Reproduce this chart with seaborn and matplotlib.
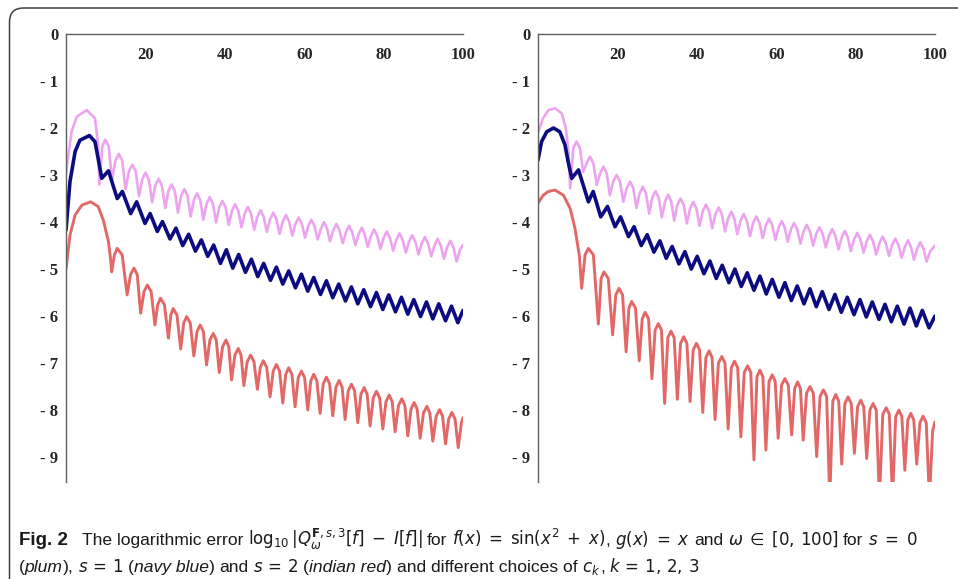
import numpy as np
import pandas as pd
import seaborn as sns
import matplotlib
import matplotlib.pyplot as plt
from matplotlib.patches import FancyBboxPatch
from matplotlib.transforms import IdentityTransform

sns.set_style("white")
plt.rcParams['axes.unicode_minus'] = False
plt.rcParams['font.family'] = ['Liberation Sans', 'DejaVu Sans']
plt.rcParams['mathtext.fontset'] = 'dejavusans'

# points (x = omega, y = log10 error): cusps, shoulders, tops
# left panel
plum_left_x = [0, 1.4, 2.7, 5.2, 7.3, 8.1, 8.4,
               9.15, 9.9, 10.75, 11.6, 12.45, 13.3, 14.15, 15.0, 15.85, 16.7, 17.55, 18.4,
               19.2, 20.0, 20.85, 21.7, 22.5, 23.3, 24.15, 25.0, 25.8, 26.6, 27.4, 28.2,
               29.0, 29.8, 30.6, 31.4, 32.2, 33.0, 33.8, 34.6, 35.4, 36.2, 37.0, 37.8,
               38.6, 39.4, 40.2, 41.0, 41.8, 42.6, 43.4, 44.2, 45.0, 45.8, 46.6, 47.4,
               48.2, 49.0, 49.8, 50.6, 51.4, 52.2, 53.0, 53.8, 54.6, 55.4, 56.2, 57.0,
               57.8, 58.6, 59.4, 60.2, 61.0, 61.8, 62.6, 63.4, 64.2, 65.0, 65.75, 66.5,
               67.3, 68.1, 68.9, 69.7, 70.5, 71.3, 72.1, 72.9, 73.7, 74.5, 75.25, 76.0,
               76.8, 77.6, 78.4, 79.2, 80.0, 80.8, 81.6, 82.4, 83.2, 84.0, 84.8, 85.6,
               86.4, 87.2, 88.0, 88.8, 89.6, 90.4, 91.2, 92.0, 92.8, 93.6, 94.4, 95.2,
               96.0, 96.8, 97.6, 98.4, 99.2, 100]
plum_left_y = [-2.95, -2.08, -1.76, -1.62, -1.79, -2.36, -3.2,
               -2.39, -2.25, -2.39, -3.1, -2.69, -2.55, -2.69, -3.3, -2.92, -2.78, -2.92, -3.45,
               -3.09, -2.95, -3.09, -3.58, -3.22, -3.08, -3.22, -3.7, -3.34, -3.2, -3.34, -3.8,
               -3.44, -3.3, -3.44, -3.88, -3.53, -3.39, -3.53, -3.95, -3.61, -3.47, -3.61, -4.01,
               -3.69, -3.55, -3.69, -4.06, -3.76, -3.62, -3.76, -4.11, -3.82, -3.68, -3.82, -4.16,
               -3.89, -3.75, -3.89, -4.21, -3.94, -3.8, -3.94, -4.25, -3.99, -3.85, -3.99, -4.29,
               -4.04, -3.9, -4.04, -4.33, -4.09, -3.95, -4.09, -4.37, -4.14, -4.0, -4.14, -4.41,
               -4.18, -4.04, -4.18, -4.45, -4.22, -4.08, -4.22, -4.49, -4.26, -4.12, -4.26, -4.53,
               -4.3, -4.16, -4.3, -4.57, -4.34, -4.2, -4.34, -4.61, -4.38, -4.24, -4.38, -4.65,
               -4.42, -4.28, -4.42, -4.69, -4.46, -4.32, -4.46, -4.73, -4.5, -4.36, -4.5, -4.78,
               -4.54, -4.4, -4.54, -4.84, -4.6, -4.48]

navy_left_x = [0, 1.0, 2.3, 3.5, 5.9, 7.3, 8.1, 9.0, 10.7, 12.9, 14.2, 16.3, 17.8, 19.9, 21.2, 23.0, 24.3,
               26.2, 27.7, 29.4, 30.9, 32.6, 34.1, 35.7, 37.2, 38.9, 40.4, 42.0, 43.5, 45.2, 46.7, 48.3,
               49.8, 51.5, 53.0, 54.6, 56.1, 57.8, 59.3, 60.9, 62.4, 64.1, 65.6, 67.2, 68.7, 70.4, 71.9,
               73.5, 75.0, 76.7, 78.2, 79.8, 81.3, 83.0, 84.5, 86.1, 87.6, 89.3, 90.8, 92.4, 93.9, 95.6,
               97.1, 98.7, 100]
navy_left_y = [-4.17, -3.14, -2.5, -2.26, -2.16, -2.29, -2.65, -3.07, -2.91, -3.5, -3.35, -3.82, -3.57,
               -4.03, -3.82, -4.2, -3.99, -4.36, -4.13, -4.5, -4.26, -4.62, -4.38, -4.73, -4.49, -4.88,
               -4.59, -4.98, -4.69, -5.07, -4.79, -5.16, -4.88, -5.24, -4.96, -5.32, -5.04, -5.4, -5.11,
               -5.47, -5.18, -5.54, -5.25, -5.61, -5.32, -5.68, -5.38, -5.74, -5.44, -5.8, -5.5, -5.86,
               -5.55, -5.91, -5.6, -5.96, -5.65, -6.01, -5.7, -6.06, -5.74, -6.1, -5.79, -6.14, -5.88]

red_left_x = [0, 1.0, 2.3, 4.0, 6.2, 8.1, 9.4, 10.7, 11.3, 11.5,
              12.2, 12.9, 14.15, 15.4, 16.25, 17.1, 17.95, 18.8, 19.65, 20.5, 21.45, 22.4,
              23.1, 23.8, 24.8, 25.8, 26.4, 27.0, 27.95, 28.9, 29.65, 30.4, 31.3, 32.2,
              33.0, 33.8, 34.6, 35.4, 36.25, 37.1, 37.85, 38.6, 39.45, 40.3, 41.0, 41.7,
              42.55, 43.4, 44.1, 44.8, 45.65, 46.5, 47.35, 48.2, 48.95, 49.7, 50.55, 51.4,
              52.2, 53.0, 53.8, 54.6, 55.35, 56.1, 56.9, 57.7, 58.5, 59.3, 60.1, 60.9,
              61.65, 62.4, 63.2, 64.0, 64.8, 65.6, 66.4, 67.2, 68.0, 68.8, 69.55, 70.3,
              71.1, 71.9, 72.7, 73.5, 74.3, 75.1, 75.85, 76.6, 77.4, 78.2, 79.0, 79.8,
              80.6, 81.4, 82.15, 82.9, 83.75, 84.6, 85.35, 86.1, 86.9, 87.7, 88.45, 89.2,
              90.05, 90.9, 91.65, 92.4, 93.25, 94.1, 94.85, 95.6, 96.4, 97.2, 98.0, 98.8,
              99.6, 100]
red_left_y = [-5.0, -4.28, -3.85, -3.64, -3.57, -3.67, -3.96, -4.42, -4.84, -5.06,
              -4.7, -4.56, -4.7, -5.55, -5.12, -4.98, -5.12, -5.94, -5.48, -5.34, -5.48, -6.19,
              -5.76, -5.62, -5.76, -6.47, -5.98, -5.84, -5.98, -6.7, -6.15, -6.01, -6.15, -6.85,
              -6.33, -6.19, -6.33, -7.04, -6.51, -6.37, -6.51, -7.2, -6.65, -6.51, -6.65, -7.36,
              -6.83, -6.69, -6.83, -7.48, -6.97, -6.83, -6.97, -7.56, -7.09, -6.95, -7.09, -7.72,
              -7.17, -7.03, -7.17, -7.85, -7.24, -7.1, -7.24, -7.93, -7.31, -7.17, -7.31, -8.0,
              -7.38, -7.24, -7.38, -8.07, -7.44, -7.3, -7.44, -8.12, -7.51, -7.37, -7.51, -8.2,
              -7.59, -7.45, -7.59, -8.27, -7.66, -7.52, -7.66, -8.34, -7.74, -7.6, -7.74, -8.4,
              -7.82, -7.68, -7.82, -8.46, -7.9, -7.76, -7.9, -8.55, -7.98, -7.84, -7.98, -8.6,
              -8.06, -7.92, -8.06, -8.66, -8.13, -7.99, -8.13, -8.72, -8.19, -8.05, -8.19, -8.8,
              -8.27, -8.16]

# right panel
plum_right_x = [0, 1.3, 2.6, 4.3, 6.0, 7.0, 7.7, 8.1,
                8.9, 9.7, 10.55, 11.4, 12.25, 13.1, 13.95, 14.8, 15.65, 16.5, 17.3, 18.1,
                18.95, 19.8, 20.65, 21.5, 22.35, 23.2, 24.0, 24.8, 25.6, 26.4, 27.2, 28.0,
                28.8, 29.6, 30.4, 31.2, 32.0, 32.8, 33.55, 34.3, 35.1, 35.9, 36.7, 37.5,
                38.3, 39.1, 39.9, 40.7, 41.5, 42.3, 43.1, 43.9, 44.7, 45.5, 46.3, 47.1,
                47.9, 48.7, 49.45, 50.2, 51.0, 51.8, 52.6, 53.4, 54.2, 55.0, 55.8, 56.6,
                57.4, 58.2, 59.0, 59.8, 60.6, 61.4, 62.15, 62.9, 63.7, 64.5, 65.3, 66.1,
                66.9, 67.7, 68.5, 69.3, 70.1, 70.9, 71.7, 72.5, 73.3, 74.1, 74.9, 75.7,
                76.5, 77.3, 78.05, 78.8, 79.6, 80.4, 81.2, 82.0, 82.8, 83.6, 84.4, 85.2,
                86.0, 86.8, 87.6, 88.4, 89.2, 90.0, 90.8, 91.6, 92.4, 93.2, 93.95, 94.7,
                95.5, 96.3, 97.1, 97.9, 98.8, 100]
plum_right_y = [-2.1, -1.79, -1.62, -1.58, -1.69, -2.0, -2.5, -3.28,
                -2.43, -2.29, -2.43, -2.93, -2.75, -2.61, -2.75, -3.21, -2.96, -2.82, -2.96, -3.43,
                -3.14, -3.0, -3.14, -3.57, -3.28, -3.14, -3.28, -3.7, -3.39, -3.25, -3.39, -3.82,
                -3.48, -3.34, -3.48, -3.9, -3.56, -3.42, -3.56, -3.97, -3.64, -3.5, -3.64, -4.03,
                -3.71, -3.57, -3.71, -4.08, -3.77, -3.63, -3.77, -4.13, -3.83, -3.69, -3.83, -4.2,
                -3.92, -3.78, -3.92, -4.26, -3.97, -3.83, -3.97, -4.3, -4.02, -3.88, -4.02, -4.34,
                -4.07, -3.93, -4.07, -4.38, -4.12, -3.98, -4.12, -4.42, -4.16, -4.02, -4.16, -4.46,
                -4.2, -4.06, -4.2, -4.5, -4.25, -4.11, -4.25, -4.54, -4.29, -4.15, -4.29, -4.58,
                -4.33, -4.19, -4.33, -4.62, -4.37, -4.23, -4.37, -4.65, -4.41, -4.27, -4.41, -4.69,
                -4.45, -4.31, -4.45, -4.72, -4.49, -4.35, -4.49, -4.76, -4.53, -4.39, -4.53, -4.8,
                -4.57, -4.43, -4.57, -4.84, -4.62, -4.5]

navy_right_x = [0, 0.9, 2.2, 3.9, 5.5, 6.8, 7.6, 8.5, 10.2, 12.7, 13.9, 15.8, 17.5, 19.4, 20.8, 22.8, 24.2,
                26.0, 27.5, 29.2, 30.7, 32.3, 33.8, 35.5, 37.0, 38.6, 40.1, 41.8, 43.3, 44.9, 46.4, 48.1,
                49.6, 51.2, 52.7, 54.4, 55.9, 57.5, 59.0, 60.7, 62.2, 63.8, 65.3, 67.0, 68.5, 70.1, 71.6,
                73.3, 74.8, 76.4, 77.9, 79.6, 81.1, 82.7, 84.2, 85.9, 87.4, 89.0, 90.5, 92.2, 93.7, 95.3,
                96.8, 98.5, 100]
navy_right_y = [-2.68, -2.29, -2.08, -2.0, -2.08, -2.36, -2.72, -3.07, -2.89, -3.57, -3.35, -3.89, -3.67,
                -4.1, -3.89, -4.31, -4.1, -4.5, -4.27, -4.64, -4.4, -4.77, -4.52, -4.89, -4.63, -5.0,
                -4.73, -5.1, -4.83, -5.2, -4.92, -5.29, -5.0, -5.37, -5.08, -5.45, -5.15, -5.53, -5.22,
                -5.6, -5.29, -5.67, -5.36, -5.74, -5.42, -5.8, -5.48, -5.86, -5.54, -5.92, -5.6, -5.97,
                -5.65, -6.02, -5.7, -6.07, -5.75, -6.12, -5.79, -6.17, -5.83, -6.21, -5.88, -6.25, -6.0]

red_right_x = [0, 1.3, 2.6, 4.3, 6.4, 8.1, 9.3, 10.4, 11.0,
               11.85, 12.7, 13.95, 15.2, 15.9, 16.6, 17.7, 18.8, 19.6, 20.4, 21.3, 22.2,
               22.9, 23.6, 24.55, 25.5, 26.25, 27.0, 27.85, 28.7, 29.5, 30.3, 31.1, 31.9,
               32.7, 33.5, 34.3, 35.1, 35.9, 36.7, 37.5, 38.3, 39.1, 39.9, 40.7, 41.5,
               42.3, 43.1, 43.85, 44.6, 45.45, 46.3, 47.1, 47.9, 48.7, 49.5, 50.3, 51.1,
               51.95, 52.8, 53.6, 54.4, 55.15, 55.9, 56.65, 57.4, 58.2, 59.0, 59.75, 60.5,
               61.35, 62.2, 63.05, 63.9, 64.65, 65.4, 66.1, 66.8, 67.65, 68.5, 69.35, 70.2,
               71.05, 71.9, 72.7, 73.5, 74.25, 75.0, 75.75, 76.5, 77.3, 78.1, 78.9, 79.7,
               80.5, 81.3, 82.05, 82.8, 83.6, 84.4, 85.2, 86.0, 86.85, 87.7, 88.5, 89.3,
               90.1, 90.9, 91.65, 92.4, 93.15, 93.9, 94.65, 95.4, 96.2, 97.0, 97.8, 98.6,
               99.4, 100]
red_right_y = [-3.6, -3.43, -3.35, -3.32, -3.43, -3.71, -4.13, -4.7, -5.41,
               -4.7, -4.56, -4.7, -6.17, -5.2, -5.06, -5.2, -6.4, -5.55, -5.41, -5.55, -6.76,
               -5.83, -5.69, -5.83, -6.95, -6.06, -5.92, -6.06, -7.33, -6.3, -6.16, -6.3, -7.86,
               -6.46, -6.32, -6.46, -7.77, -6.58, -6.44, -6.58, -7.82, -6.72, -6.58, -6.72, -8.05,
               -6.88, -6.74, -6.88, -8.2, -7.0, -6.86, -7.0, -8.4, -7.1, -6.96, -7.1, -8.57,
               -7.2, -7.06, -7.2, -9.06, -7.29, -7.15, -7.29, -8.85, -7.39, -7.25, -7.39, -8.6,
               -7.47, -7.33, -7.47, -8.53, -7.54, -7.4, -7.54, -8.64, -7.64, -7.5, -7.64, -8.99,
               -7.71, -7.57, -7.71, -9.9, -7.81, -7.67, -7.81, -9.15, -7.86, -7.72, -7.86, -8.92,
               -7.93, -7.79, -7.93, -9.03, -8.0, -7.86, -8.0, -9.9, -8.09, -7.95, -8.09, -9.9,
               -8.14, -8.0, -8.14, -9.28, -8.21, -8.07, -8.21, -9.15, -8.27, -8.13, -8.27, -9.9,
               -8.45, -8.25]

x_major = [20, 40, 60, 80, 100]
x_minor = [10, 30, 50, 70, 90]
y_major = [0, -1, -2, -3, -4, -5, -6, -7, -8, -9]
y_minor = [-0.5, -1.5, -2.5, -3.5, -4.5, -5.5, -6.5, -7.5, -8.5, -9.5]
y_labels = ['0', '- 1', '- 2', '- 3', '- 4', '- 5', '- 6', '- 7', '- 8', '- 9']

colors = {'plum': '#eda4ee', 'navy': '#0c0c80', 'red': '#e26868'}
widths = {'plum': 1.9, 'navy': 2.6, 'red': 2.1}

W, H = 958, 579
fig = plt.figure(figsize=(W / 100, H / 100), dpi=100)


def make_panel(left_px, curves):
    ax = fig.add_axes([left_px / W, 1 - 482 / H, 397 / W, 448 / H])
    for name, xs, ys in curves:
        df = pd.DataFrame({'omega': xs, 'err': ys})
        sns.lineplot(data=df, x='omega', y='err', ax=ax, sort=False, estimator=None,
                     color=colors[name], linewidth=widths[name])
    for ln in ax.lines:
        ln.set_solid_joinstyle('round')
    ax.set_xlim(0, 100)
    ax.set_ylim(-9.53, 0)
    ax.set_xlabel('')
    ax.set_ylabel('')
    ax.spines['top'].set_visible(False)
    ax.spines['right'].set_visible(False)
    ax.spines['bottom'].set_position(('data', 0))
    for s in ['left', 'bottom']:
        ax.spines[s].set_color('#606060')
        ax.spines[s].set_linewidth(1.0)
    ax.set_xticks(x_major)
    ax.set_xticks(x_minor, minor=True)
    ax.set_yticks(y_major)
    ax.set_yticks(y_minor, minor=True)
    ax.set_xticklabels([str(v) for v in x_major])
    ax.set_yticklabels(y_labels)
    ax.tick_params(which='major', direction='inout', length=5, width=0.9, color='#606060')
    ax.tick_params(which='minor', direction='inout', length=3, width=0.8, color='#606060')
    ax.tick_params(axis='x', pad=7)
    ax.tick_params(axis='y', pad=3)
    for lab in ax.get_xticklabels() + ax.get_yticklabels():
        lab.set_fontfamily(['Liberation Serif', 'DejaVu Serif'])
        lab.set_fontweight('bold')
        lab.set_fontsize(12)
    ax.set_facecolor('none')
    return ax


make_panel(66, [('plum', plum_left_x, plum_left_y),
                ('navy', navy_left_x, navy_left_y),
                ('red', red_left_x, red_left_y)])
make_panel(538, [('plum', plum_right_x, plum_right_y),
                 ('navy', navy_right_x, navy_right_y),
                 ('red', red_right_x, red_right_y)])

# rounded frame around figure + caption
frame = FancyBboxPatch((9.5, -40), 1000, H - 8 + 40, boxstyle="round,pad=0,rounding_size=14",
                       transform=IdentityTransform(), fill=False, edgecolor='#404040', linewidth=1.1)
fig.patches.append(frame)

# caption, laid out piece by piece so text and math can be sized separately
text_size = 12.6
math_size = 12.0
renderer = fig.canvas.get_renderer()


def put_line(x_px, y_px, parts):
    x = x_px
    for txt, style, gap in parts:
        kw = dict(color='#1a1a1a', va='baseline', fontsize=text_size)
        if style == 'math':
            kw['fontsize'] = math_size
        elif style == 'bold':
            kw['fontweight'] = 'bold'
            kw['fontsize'] = 13.5
        elif style == 'ital':
            kw['fontstyle'] = 'italic'
        t = fig.text(x / W, 1 - y_px / H, txt, **kw)
        x += t.get_window_extent(renderer).width + gap


sp = 4.5
put_line(19, 545, [
    ('Fig. 2', 'bold', 14),
    ('The logarithmic error', 'text', sp),
    (r'$\log_{10}|Q_{\omega}^{\mathbf{F},s,3}[f]\;-\;I[f]|$', 'math', sp),
    ('for', 'text', sp),
    (r'$f(x)\;=\;\sin(x^2\;+\;x)$', 'math', 0),
    (',', 'text', sp),
    (r'$g(x)\;=\;x$', 'math', sp),
    ('and', 'text', sp),
    (r'$\omega\;\in\;[0,\,100]$', 'math', sp),
    ('for', 'text', sp),
    (r'$s\;=\;0$', 'math', 0),
])
put_line(19, 572, [
    ('(', 'text', 0),
    ('plum', 'ital', 0),
    ('),', 'text', sp),
    (r'$s\,=\,1$', 'math', sp),
    ('(', 'text', 0),
    ('navy blue', 'ital', 0),
    (')', 'text', sp),
    ('and', 'text', sp),
    (r'$s\,=\,2$', 'math', sp),
    ('(', 'text', 0),
    ('indian red', 'ital', 0),
    (')', 'text', sp),
    ('and different choices of', 'text', sp),
    (r'$c_k$', 'math', 0),
    (',', 'text', sp),
    (r'$k\,=\,1,\,2,\,3$', 'math', 0),
])

fig.savefig('out.png', dpi=100)
